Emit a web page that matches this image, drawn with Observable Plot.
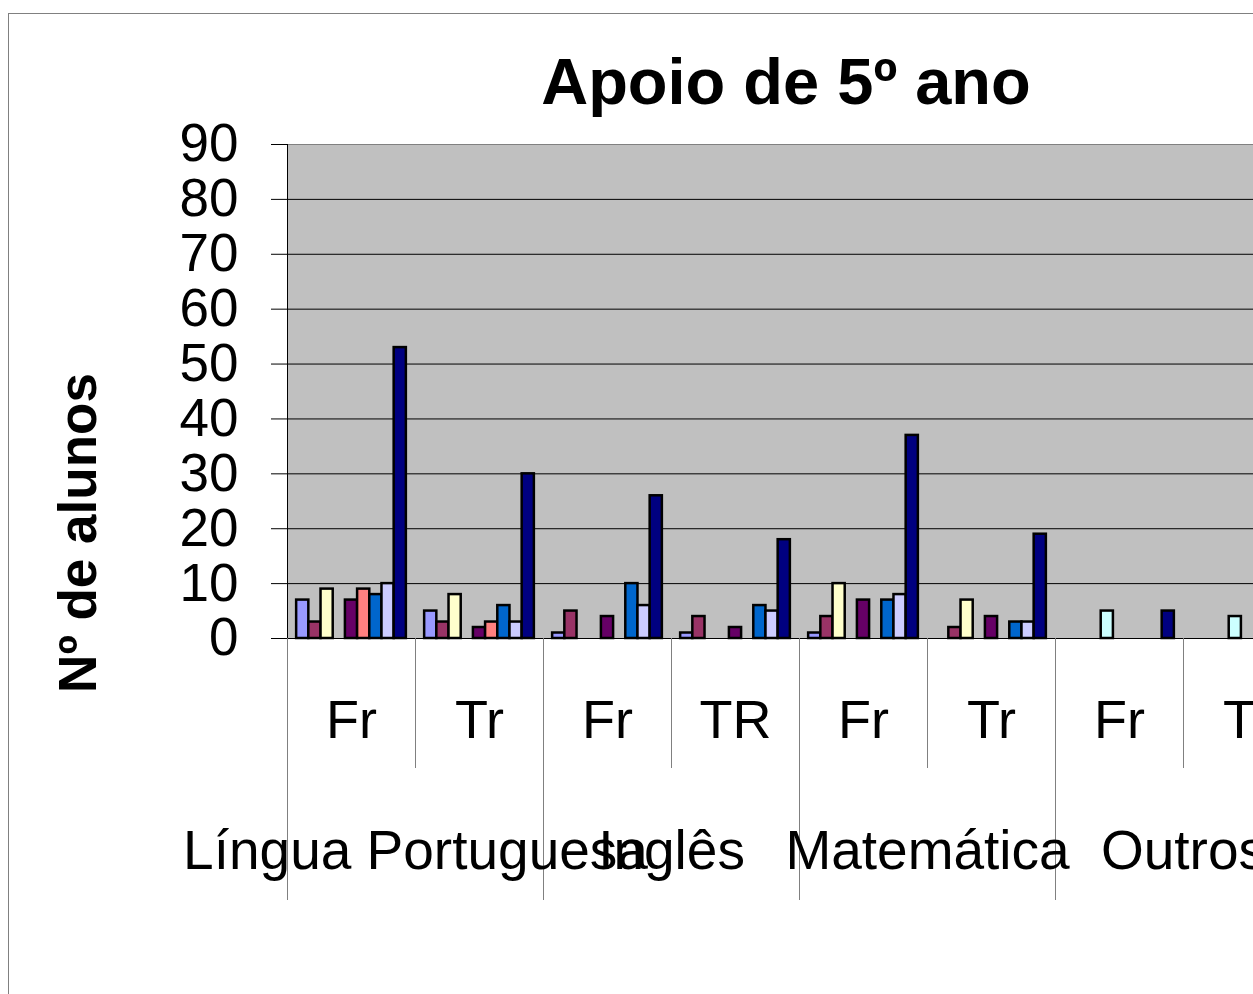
<!DOCTYPE html>
<html><head><meta charset="utf-8">
<script src="https://cdn.jsdelivr.net/npm/d3@7"></script>
<script src="https://cdn.jsdelivr.net/npm/@observablehq/plot@0.6"></script>
<style>
html,body{margin:0;padding:0;background:#fff;overflow:hidden;}
#wrap{position:relative;width:1253px;height:994px;overflow:hidden;font-family:"Liberation Sans",Arial,sans-serif;color:#000;}
#border{position:absolute;left:8px;top:13px;width:2000px;height:2000px;border-left:1px solid #808080;border-top:1px solid #808080;}
#chart{position:absolute;left:0;top:0;width:1330px;height:994px;}
#chart svg{max-width:none !important;width:1330px;height:994px;}
#title{position:absolute;left:286px;width:1000px;top:49px;text-align:center;font-size:65px;font-weight:bold;line-height:65px;white-space:nowrap;}
#ytitle{position:absolute;left:-122px;top:503px;width:400px;height:60px;line-height:60px;text-align:center;font-size:53px;font-weight:bold;transform:rotate(-90deg);white-space:nowrap;}
</style></head>
<body>
<div id="wrap">
  <div id="border"></div>
  <div id="chart"></div>
  <div id="title">Apoio de 5º ano</div>
  <div id="ytitle">Nº de alunos</div>
</div>
<script>
// ---- data ----
const subjects = ["Língua Portuguesa", "Inglês", "Matemática", "Outros"];
const subLabels = ["Fr", "Tr", "Fr", "TR", "Fr", "Tr", "Fr", "Tr"];
const seriesNames = ["Série1", "Série2", "Série3", "Série4", "Série5", "Série6", "Série7", "Série8", "Total"];
const seriesColors = ["#9999FF", "#993366", "#FFFFCC", "#CCFFFF", "#660066", "#FF8080", "#0066CC", "#CCCCFF", "#000080"];
const serie1 = [7, 5, 1, 1, 1, 0, 0, 0];
const serie2 = [3, 3, 5, 4, 4, 2, 0, 0];
const serie3 = [9, 8, 0, 0, 10, 7, 0, 0];
const serie4 = [0, 0, 0, 0, 0, 0, 5, 4];
const serie5 = [7, 2, 4, 2, 7, 4, 0, 0];
const serie6 = [9, 3, 0, 0, 0, 0, 0, 0];
const serie7 = [8, 6, 10, 6, 7, 3, 0, 0];
const serie8 = [10, 3, 6, 5, 8, 3, 0, 0];
const total  = [53, 30, 26, 18, 37, 19, 5, 4];
const yTicks = [0, 10, 20, 30, 40, 50, 60, 70, 80, 90];

// ---- layout tables built from the data ----
const seriesValues = [serie1, serie2, serie3, serie4, serie5, serie6, serie7, serie8, total];
const gap = 1.5; // Excel gap width 150%
const slots = seriesNames.length + gap;
const rows = [];
seriesValues.forEach((vals, s) => vals.forEach((v, c) => {
  if (v > 0) rows.push({series: seriesNames[s], value: v,
    x1: c + (gap / 2 + s) / slots, x2: c + (gap / 2 + s + 1) / slots});
}));
const cats = subLabels.map((sub, i) => ({pos: i + 0.5, sub}));
const groups = subjects.map((name, g) => ({pos: 2 * g + 1, name}));
const longSeps = d3.range(0, subLabels.length + 1, 2);
const shortSeps = d3.range(1, subLabels.length, 2);

const font = "'Liberation Sans', Arial, sans-serif";
const chart = Plot.plot({
  width: 1330, height: 994,
  marginLeft: 287, marginRight: 19, marginTop: 144, marginBottom: 356,
  style: {fontFamily: font, fontSize: "53px", background: "transparent", color: "#000", overflow: "visible", maxWidth: "none"},
  x: {domain: [0, subLabels.length], axis: null},
  y: {domain: [0, 90], ticks: yTicks, tickSize: 16, tickPadding: 33, label: null, tickFormat: d => String(d)},
  color: {domain: seriesNames, range: seriesColors},
  marks: [
    Plot.frame({fill: "#C0C0C0", stroke: "#808080"}),
    Plot.ruleY(yTicks.filter(t => t > 0 && t < 90), {stroke: "#000", strokeWidth: 1}),
    Plot.rect(rows, {x1: "x1", x2: "x2", y1: 0, y2: "value", fill: "series", stroke: "#000", strokeWidth: 2.5}),
    Plot.ruleY([0], {stroke: "#000", strokeWidth: 1}),
    Plot.ruleX(longSeps, {x: d => d, y1: 0, y2: 0, insetBottom: -262, stroke: "#808080", strokeWidth: 1}),
    Plot.ruleX(shortSeps, {x: d => d, y1: 0, y2: 0, insetBottom: -130, stroke: "#808080", strokeWidth: 1}),
    Plot.ruleX([0], {stroke: "#000", strokeWidth: 1}),
    Plot.text(cats, {x: "pos", text: "sub", frameAnchor: "bottom", lineAnchor: "middle", dy: 82, fontSize: 54, fill: "#000"}),
    Plot.text(groups, {x: "pos", text: "name", frameAnchor: "bottom", lineAnchor: "middle", dy: 213, fontSize: 55, fill: "#000"})
  ]
});
document.getElementById("chart").appendChild(chart);
</script>
</body></html>
